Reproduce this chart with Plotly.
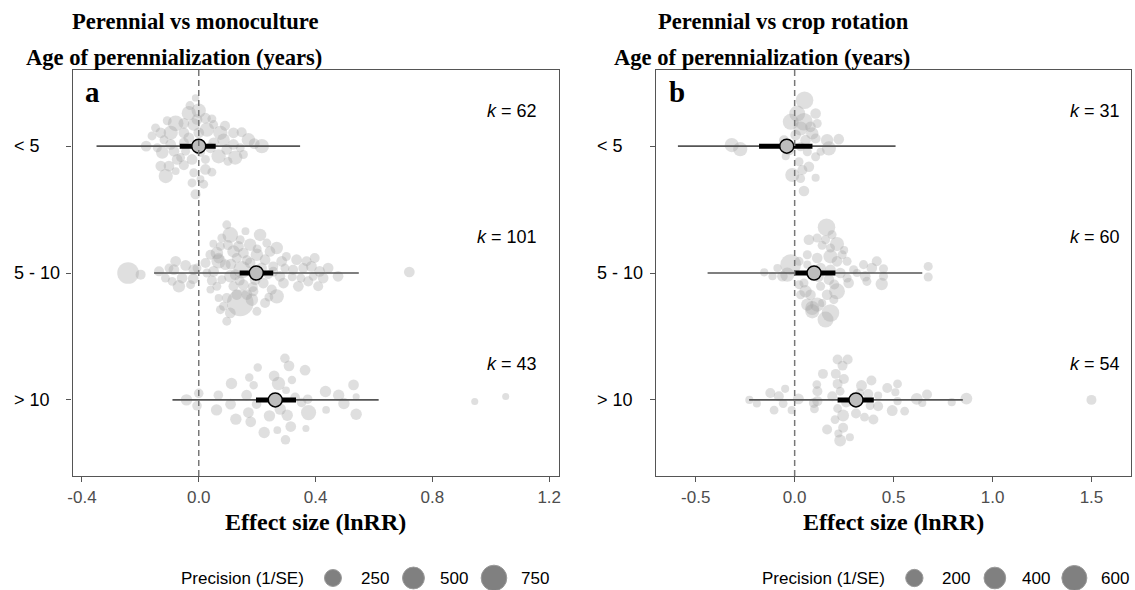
import numpy as np
import plotly.graph_objects as go

# ---------------- data ----------------
categories = ["< 5", "5 - 10", "> 10"]
cat_pos = [3, 2, 1]

# Panel a: Perennial vs monoculture  (effect size, vertical jitter, precision)
a_lt5_es = [-0.011, -0.034, 0.0, -0.079, -0.108, 0.023, 0.045, -0.017, 0.028, -0.13, -0.096, -0.051, 0.074, 0.119, 0.147,
            0.17, 0.085, -0.119, -0.034, -0.18, 0.216, -0.096, 0.119, 0.142, 0.051, -0.125, -0.085, 0.068, 0.125, 0.153,
            -0.045, -0.062, -0.023, 0.023, -0.13, -0.102, -0.051, -0.079, -0.113, -0.017, 0.023, 0.045, -0.023, 0.017,
            -0.011, 0.006, 0.051, -0.051, 0.096, -0.142, 0.04, -0.051, -0.148, 0.0, 0.006, -0.074, -0.006, 0.09, 0.19,
            -0.16, 0.10, -0.03]
a_lt5_jit = [0.38, 0.26, 0.28, 0.18, 0.20, 0.22, 0.215, 0.17, 0.13, 0.105, 0.105, 0.105, 0.105, 0.105, 0.11,
             0.05, 0.05, 0.05, 0.066, 0.0, 0.0, 0.013, 0.013, -0.013, 0.026, -0.05, -0.04, -0.08, -0.09, -0.066,
             -0.04, -0.09, -0.105, -0.105, -0.157, -0.157, -0.15, -0.197, -0.236, -0.21, -0.184, -0.205, -0.29, -0.30,
             -0.38, -0.26, 0.17, 0.18, -0.026, -0.013, -0.013, 0.026, 0.144, 0.105, -0.05, -0.105, 0.21, 0.16, 0.02,
             0.08, -0.12, 0.32]
a_lt5_prec = [9, 150, 150, 200, 26, 56, 26, 97, 150, 56, 150, 56, 150, 56, 43,
              125, 97, 26, 56, 56, 150, 56, 56, 26, 56, 97, 56, 150, 150, 26,
              26, 26, 56, 26, 56, 56, 43, 14, 150, 26, 56, 26, 26, 26,
              43, 14, 26, 56, 56, 26, 56, 43, 26, 56, 26, 56, 56, 43, 56,
              26, 26, 26]

a_mid_es = [-0.242, -0.199, -0.136, -0.079, -0.085, -0.045, -0.057, -0.091, -0.068, -0.017, -0.019, 0.023, 0.051, 0.062,
            0.068, 0.096, 0.108, 0.079, 0.142, 0.21, 0.233, 0.176, 0.119, 0.153, 0.199, 0.244, 0.267, 0.091, 0.13,
            0.176, 0.227, 0.284, 0.255, 0.148, 0.108, 0.335, 0.369, 0.397, 0.323, 0.358, 0.386, 0.414, 0.443, 0.477,
            0.29, 0.341, 0.375, 0.409, 0.392, 0.721, 0.04, 0.062, 0.079, 0.119, 0.153, 0.187, 0.221, 0.25, 0.267,
            0.227, 0.182, 0.142, 0.13, 0.096, 0.068, 0.085, 0.074, 0.108, 0.096, 0.199, 0.165, 0.193, 0.238, 0.278,
            0.295, 0.028, 0.074, 0.136, 0.04, 0.068, 0.125, -0.006, -0.102, -0.114, -0.028, 0.35, 0.426, 0.16, 0.20,
            0.10, 0.215, 0.045, 0.30, 0.165, 0.24, 0.11, 0.185, 0.255, 0.05, 0.32, 0.14]
a_mid_jit = [0.0, -0.013, 0.013, 0.092, 0.026, 0.06, -0.04, -0.066, -0.105, 0.026, -0.045, 0.079, 0.013, 0.157,
             0.092, 0.38, 0.30, 0.276, 0.262, 0.30, 0.236, 0.223, 0.17, 0.157, 0.144, 0.17, 0.197, 0.066, 0.118,
             0.079, 0.105, 0.092, 0.052, 0.026, -0.026, 0.105, 0.092, 0.118, 0.026, 0.039, 0.052, 0.013, 0.039, -0.026,
             -0.079, -0.105, -0.066, -0.105, -0.026, 0.008, -0.131, -0.105, -0.052, -0.105, -0.092, -0.144, -0.079,
             -0.131, -0.184, -0.236, -0.21, -0.236, -0.17, -0.197, -0.197, -0.262, -0.289, -0.315, -0.38, -0.302,
             -0.17, -0.052, -0.013, -0.026, 0.039, 0.0, 0.21, 0.21, 0.144, 0.118, -0.013, 0.039, 0.039, -0.04, -0.092,
             -0.04, -0.04, 0.33, 0.19, 0.22, 0.04, -0.06, 0.13, 0.10, -0.19, 0.07, -0.11, 0.01, 0.23, -0.03, -0.06]
a_mid_prec = [488, 43, 43, 56, 56, 56, 56, 26, 97, 56, 56, 43, 56, 97,
              150, 26, 200, 26, 26, 97, 26, 97, 97, 56, 97, 56, 97, 56, 43,
              56, 56, 56, 43, 270, 97, 56, 43, 43, 43, 43, 56, 56, 56, 56,
              56, 56, 43, 43, 26, 56, 14, 26, 26, 43, 56, 43, 56, 43, 150,
              43, 97, 827, 56, 43, 14, 26, 26, 56, 26, 26, 56, 56, 26, 56,
              26, 26, 26, 56, 43, 56, 56, 26, 26, 26, 26, 26, 56, 14, 26,
              43, 56, 43, 26, 43, 26, 56, 43, 43, 14, 26, 43]

a_gt10_es = [-0.042, 0.0, -0.006, 0.067, 0.061, 0.112, 0.109, 0.127, 0.173, 0.188, 0.164, 0.17, 0.178, 0.202, 0.198,
             0.224, 0.242, 0.258, 0.273, 0.279, 0.269, 0.295, 0.309, 0.299, 0.303, 0.315, 0.297, 0.319, 0.364, 0.373,
             0.376, 0.367, 0.352, 0.434, 0.436, 0.479, 0.497, 0.53, 0.539, 0.539, 0.945, 1.051, 0.33]
a_gt10_jit = [0.0, 0.052, -0.047, 0.037, -0.079, 0.129, -0.034, -0.152, 0.176, 0.115, 0.037, -0.1, -0.173, 0.255, -0.034,
              -0.257, -0.126, 0.189, 0.129, -0.073, -0.239, 0.328, 0.268, 0.076, -0.121, -0.21, -0.315, 0.157, 0.234,
              0.005, -0.1, -0.226, -0.02, 0.066, -0.079, 0.037, -0.029, 0.118, 0.024, -0.113, -0.013, 0.026, 0.02]
a_gt10_prec = [70, 35, 35, 35, 70, 70, 56, 70, 20, 20, 56, 56, 56, 20, 35,
               70, 70, 56, 120, 70, 12, 35, 56, 12, 70, 56, 35, 20, 56, 35,
               180, 7, 35, 70, 12, 70, 70, 56, 7, 70, 7, 7, 35]

a_mean = [0.0, 0.197, 0.262]
a_ci_lo = [-0.065, 0.14, 0.196]
a_ci_hi = [0.058, 0.255, 0.333]
a_pi_lo = [-0.35, -0.153, -0.09]
a_pi_hi = [0.347, 0.548, 0.616]
a_k = [62, 101, 43]

# Panel b: Perennial vs crop rotation
b_lt5_es = [-0.318, -0.275, 0.05, 0.013, 0.106, -0.02, 0.047, 0.114, 0.03, 0.005, 0.089, 0.106, -0.054, 0.164, 0.223,
            0.173, 0.03, 0.064, -0.045, 0.106, 0.022, 0.072, -0.012, 0.03, 0.106, 0.047, 0.039, 0.131, -0.028, 0.08,
            0.055]
b_lt5_jit = [0.008, -0.024, 0.362, 0.257, 0.257, 0.192, 0.192, 0.178, 0.139, 0.087, 0.1, 0.06, 0.047, 0.047, 0.055,
             -0.018, -0.005, -0.045, -0.079, -0.084, -0.123, -0.163, -0.228, -0.255, -0.249, -0.354, -0.189, -0.045,
             -0.03, 0.152, 0.047]
b_lt5_prec = [97, 97, 210, 150, 26, 150, 210, 9, 97, 26, 56, 18, 18, 56, 26,
              97, 9, 9, 3, 9, 9, 26, 97, 9, 3, 26, 18, 3, 26, 26, 26]

b_mid_es = [-0.154, -0.112, -0.087, -0.062, -0.02, -0.037, 0.022, 0.055, 0.08, 0.089, 0.114, 0.072, 0.114, 0.161, 0.189,
            0.139, 0.214, 0.181, 0.064, 0.114, 0.181, 0.214, 0.265, 0.131, 0.181, 0.231, 0.298, 0.348, 0.39, 0.415,
            0.449, 0.449, 0.357, 0.365, 0.44, 0.273, 0.173, 0.214, 0.164, 0.131, 0.03, 0.064, 0.089, 0.181, 0.156,
            0.675, 0.675, 0.24, 0.064, 0.022, 0.156, 0.265, 0.315, 0.047, 0.198, 0.139, 0.105, 0.25, 0.12, 0.2]
b_mid_jit = [0.005, -0.026, 0.039, -0.026, 0.066, -0.013, -0.092, -0.144, -0.171, -0.276, -0.249, 0.262, 0.276, 0.36,
             0.302, 0.218, 0.228, 0.197, 0.144, 0.118, 0.131, 0.092, 0.092, 0.039, 0.026, 0.0, 0.026, 0.066, 0.039,
             0.092, 0.034, -0.026, -0.026, -0.066, -0.087, -0.079, -0.052, -0.144, -0.171, -0.105, -0.171, -0.249,
             -0.302, -0.315, -0.367, 0.052, -0.031, 0.144, 0.066, 0.092, 0.262, -0.039, 0.0, -0.079, -0.21, -0.236,
             0.02, 0.18, -0.03, -0.09]
b_mid_prec = [3, 3, 3, 26, 350, 97, 9, 56, 26, 97, 97, 26, 9, 210, 9,
              9, 97, 9, 9, 26, 97, 26, 9, 26, 26, 26, 9, 9, 26, 18,
              9, 9, 26, 9, 56, 26, 26, 150, 26, 9, 9, 56, 97, 210, 150,
              9, 9, 9, 3, 9, 9, 9, 3, 9, 9, 3, 18, 3, 26, 18]

b_gt10_es = [-0.229, -0.191, -0.123, -0.104, -0.08, -0.058, -0.048, -0.015, 0.019, 0.097, 0.1, 0.112, 0.115, 0.115,
             0.143, 0.164, 0.19, 0.204, 0.208, 0.217, 0.217, 0.217, 0.221, 0.23, 0.23, 0.242, 0.245, 0.245, 0.249,
             0.268, 0.279, 0.31, 0.329, 0.338, 0.353, 0.372, 0.381, 0.388, 0.398, 0.422, 0.422, 0.468, 0.493, 0.509,
             0.52, 0.52, 0.556, 0.617, 0.645, 0.669, 0.794, 0.868, 1.5, 0.26]
b_gt10_jit = [0.0, -0.029, 0.055, -0.081, 0.029, -0.029, 0.087, -0.081, 0.008, -0.024, -0.071, 0.121, 0.068, -0.01,
              0.205, -0.234, 0.029, -0.155, 0.205, 0.318, 0.126, -0.068, -0.265, -0.32, 0.068, 0.27, -0.123, -0.22,
              0.165, 0.318, -0.294, -0.108, 0.055, 0.113, -0.136, 0.047, -0.045, 0.152, -0.155, -0.05, 0.034, 0.094,
              -0.084, 0.06, 0.126, -0.01, -0.089, 0.008, -0.024, 0.042, -0.018, 0.01, 0.0, -0.02]
b_gt10_prec = [3, 3, 18, 7, 18, 7, 3, 3, 30, 18, 7, 7, 18, 18,
               18, 18, 18, 7, 18, 18, 18, 7, 3, 45, 7, 18, 45, 18, 18,
               18, 3, 18, 7, 30, 7, 18, 7, 18, 18, 18, 3, 18, 30, 3,
               7, 3, 7, 45, 3, 18, 3, 45, 18, 18]

b_mean = [-0.04, 0.098, 0.31]
b_ci_lo = [-0.18, 0.0, 0.217]
b_ci_hi = [0.09, 0.206, 0.40]
b_pi_lo = [-0.59, -0.44, -0.23]
b_pi_hi = [0.51, 0.645, 0.85]
b_k = [31, 60, 54]

a_legend_vals = [250, 500, 750]
b_legend_vals = [200, 400, 600]

# ---------------- styling ----------------
SERIF = "Liberation Serif, Times New Roman, serif"
SANS = "Liberation Sans, Arial, sans-serif"
W, H = 1135, 590
PT_COLOR = "rgba(160,160,160,0.48)"


def size_a(p):
    return 5.1 + 0.75 * np.sqrt(np.asarray(p, dtype=float))


def size_b(p):
    return 6.8 + 0.744 * np.sqrt(np.asarray(p, dtype=float))


def px(x):
    return x / W


def py(y):
    return 1 - y / H


fig = go.Figure()

panels = [
    dict(xa="x", ya="y",
         groups=[(a_lt5_es, a_lt5_jit, a_lt5_prec), (a_mid_es, a_mid_jit, a_mid_prec), (a_gt10_es, a_gt10_jit, a_gt10_prec)],
         mean=a_mean, ci_lo=a_ci_lo, ci_hi=a_ci_hi, pi_lo=a_pi_lo, pi_hi=a_pi_hi, k=a_k, size=size_a),
    dict(xa="x2", ya="y2",
         groups=[(b_lt5_es, b_lt5_jit, b_lt5_prec), (b_mid_es, b_mid_jit, b_mid_prec), (b_gt10_es, b_gt10_jit, b_gt10_prec)],
         mean=b_mean, ci_lo=b_ci_lo, ci_hi=b_ci_hi, pi_lo=b_pi_lo, pi_hi=b_pi_hi, k=b_k, size=size_b),
]

for P in panels:
    for (es, jit, prec), yc in zip(P["groups"], cat_pos):
        fig.add_trace(go.Scatter(
            x=es, y=[yc + j for j in jit], mode="markers", xaxis=P["xa"], yaxis=P["ya"],
            marker=dict(size=P["size"](prec), color=PT_COLOR, line=dict(width=0)),
            showlegend=False, hoverinfo="skip"))
    for i, yc in enumerate(cat_pos):
        fig.add_trace(go.Scatter(
            x=[P["pi_lo"][i], P["pi_hi"][i]], y=[yc, yc], mode="lines", xaxis=P["xa"], yaxis=P["ya"],
            line=dict(color="#555555", width=1.6), showlegend=False, hoverinfo="skip"))
        fig.add_trace(go.Scatter(
            x=[P["ci_lo"][i], P["ci_hi"][i]], y=[yc, yc], mode="lines", xaxis=P["xa"], yaxis=P["ya"],
            line=dict(color="black", width=5), showlegend=False, hoverinfo="skip"))
    fig.add_trace(go.Scatter(
        x=P["mean"], y=cat_pos, mode="markers", xaxis=P["xa"], yaxis=P["ya"],
        marker=dict(size=14, color="#bdbdbd", line=dict(color="black", width=1.5)),
        showlegend=False, hoverinfo="skip"))

axis_common = dict(showgrid=False, zeroline=False, showline=True, mirror=True, linecolor="#555555", linewidth=1.2,
                   ticks="outside", ticklen=5, tickcolor="#555555", tickwidth=1.2)

fig.update_layout(
    width=W, height=H, margin=dict(l=0, r=0, t=0, b=0),
    plot_bgcolor="white", paper_bgcolor="white",
    xaxis=dict(domain=[px(68), px(557)], range=[-0.432, 1.232], anchor="y",
               tickvals=[-0.4, 0, 0.4, 0.8, 1.2], ticktext=["-0.4", "0.0", "0.4", "0.8", "1.2"],
               tickfont=dict(family=SANS, size=17, color="#4d4d4d"), **axis_common),
    yaxis=dict(domain=[py(476), py(70)], range=[0.4, 3.6], anchor="x",
               tickvals=cat_pos, showticklabels=False, **axis_common),
    xaxis2=dict(domain=[px(655), px(1133)], range=[-0.701, 1.70], anchor="y2",
                tickvals=[-0.5, 0, 0.5, 1.0, 1.5], ticktext=["-0.5", "0.0", "0.5", "1.0", "1.5"],
                tickfont=dict(family=SANS, size=17, color="#4d4d4d"), **axis_common),
    yaxis2=dict(domain=[py(476), py(70)], range=[0.4, 3.6], anchor="x2",
                tickvals=cat_pos, showticklabels=False, **axis_common),
)

# zero lines
for xr, yr in [("x", "y domain"), ("x2", "y2 domain")]:
    fig.add_shape(type="line", xref=xr, yref=yr, x0=0, x1=0, y0=0, y1=1,
                  line=dict(color="#777777", width=1.5, dash="6px,4px"), layer="above")

ann = []
# category labels (left aligned)
for xl, yr in [(7, "y"), (594, "y2")]:
    for lab, yc in zip(categories, cat_pos):
        ann.append(dict(text=lab, xref="paper", yref=yr, x=px(xl), y=yc, xanchor="left", yanchor="middle",
                        showarrow=False, font=dict(family=SANS, size=18, color="black")))
# k labels
for xr, yr, ks in [(537, "y", a_k), (1124, "y2", b_k)]:
    for kv, yc in zip(ks, cat_pos):
        ann.append(dict(text=f"<i>k</i> = {kv}", xref="paper", yref=yr, x=px(xr), y=yc + 0.28,
                        xanchor="right", yanchor="middle", showarrow=False,
                        font=dict(family=SANS, size=18, color="black")))
# titles
titles = [("Perennial vs monoculture", 65, 22), ("Age of perennialization (years)", 19, 57),
          ("Perennial vs crop rotation", 655, 22), ("Age of perennialization (years)", 611, 57)]
for t, xl, yl in titles:
    ann.append(dict(text=f"<b>{t}</b>", xref="paper", yref="paper", x=px(xl), y=py(yl), xanchor="left",
                    yanchor="middle", showarrow=False, font=dict(family=SERIF, size=22.6, color="black")))
# panel letters
for t, xl in [("a", 88), ("b", 676)]:
    ann.append(dict(text=f"<b>{t}</b>", xref="paper", yref="paper", x=px(xl), y=py(92), xanchor="center",
                    yanchor="middle", showarrow=False, font=dict(family=SERIF, size=29, color="black")))
# x titles
for xc in [312.5, 894]:
    ann.append(dict(text="<b>Effect size (lnRR)</b>", xref="paper", yref="paper", x=px(xc), y=py(522),
                    xanchor="center", yanchor="middle", showarrow=False,
                    font=dict(family=SERIF, size=24, color="black")))

# size legends
legends = [(175, [330, 411, 492], [356, 436, 517], a_legend_vals, size_a),
           (760, [915, 996, 1076], [941, 1021, 1101], b_legend_vals, size_b)]
for tx, cxs, lxs, vals, sf in legends:
    ann.append(dict(text="Precision (1/SE)", xref="paper", yref="paper", x=px(tx), y=py(578), xanchor="left",
                    yanchor="middle", showarrow=False, font=dict(family=SANS, size=17, color="black")))
    for cx, lx, v in zip(cxs, lxs, vals):
        d = float(sf(v))
        fig.add_shape(type="circle", xref="paper", yref="paper", xsizemode="pixel", ysizemode="pixel",
                      xanchor=px(cx), yanchor=py(578), x0=-d / 2, x1=d / 2, y0=-d / 2, y1=d / 2,
                      fillcolor="#808080", line=dict(color="#9a9a9a", width=1))
        ann.append(dict(text=str(v), xref="paper", yref="paper", x=px(lx), y=py(578), xanchor="left",
                        yanchor="middle", showarrow=False, font=dict(family=SANS, size=17, color="black")))

fig.update_layout(annotations=ann)
fig.write_html("out.html")
